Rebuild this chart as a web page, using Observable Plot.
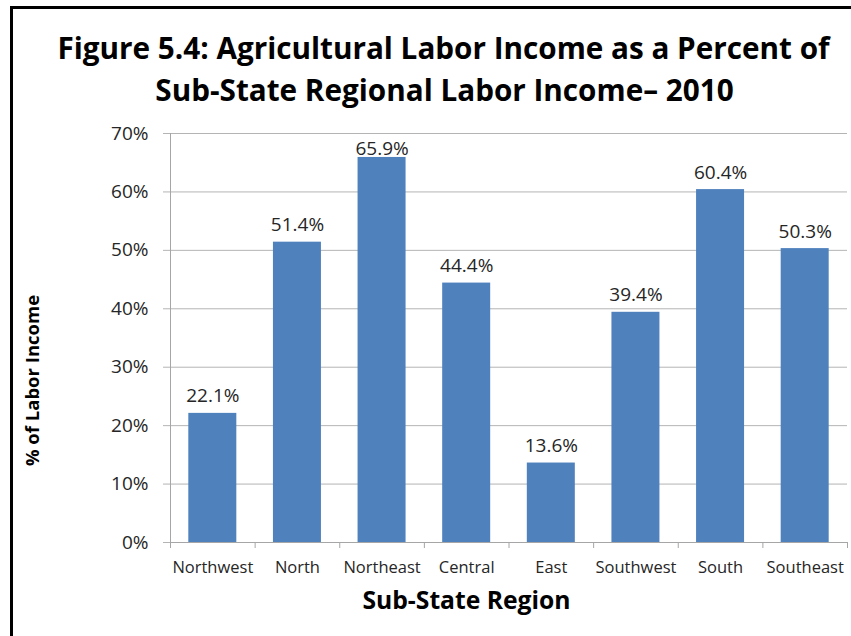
<!DOCTYPE html>
<html><head><meta charset="utf-8">
<script src="https://cdn.jsdelivr.net/npm/d3@7"></script>
<script src="https://cdn.jsdelivr.net/npm/@observablehq/plot@0.6"></script>
<style>
body{margin:0;background:#fff;}
#wrap{position:relative;width:851px;height:636px;overflow:hidden;background:#fff;}
#wrap svg{position:absolute;left:0;top:0;}
#bl{position:absolute;left:10px;top:6px;width:3px;height:630px;background:#000;z-index:2;}
#bt{position:absolute;left:10px;top:6px;width:841px;height:3px;background:#000;z-index:2;}
</style></head><body><div id="wrap"><div id="bl"></div><div id="bt"></div></div>
<script>
const regions = ["Northwest","North","Northeast","Central","East","Southwest","South","Southeast"];
const values = [22.1, 51.4, 65.9, 44.4, 13.6, 39.4, 60.4, 50.3];
const yTicks = [0,10,20,30,40,50,60,70];
const titleLines = ["Figure 5.4: Agricultural Labor Income as a Percent of", "Sub-State Regional Labor Income\u2013 2010"];
const xLabel = "Sub-State Region";
const yLabel = "% of Labor Income";

const data = regions.map((r,i)=>({region:r, value:values[i]}));

const W=851, H=636, mL=170, mR=4, mT=133, mB=94;
const step = (W-mL-mR)/regions.length;
const pxPerUnit = (H-mT-mB)/70;
const gap = 10/pxPerUnit;          // label gap above bar (Excel style)
const maxLabel = 70 - 22/pxPerUnit; // labels kept inside the plot area
const FONT = "'Open Sans', sans-serif";
const grid = "#b4b4b4", axisC = "#a6a6a6", txt = "#262626";

const chart = Plot.plot({
  width: W, height: H,
  marginLeft: mL, marginRight: mR, marginTop: mT, marginBottom: mB,
  style: {fontFamily: FONT, background: "transparent", overflow: "visible"},
  x: {domain: regions, padding: 0, round: false, label: null},
  y: {domain: [0,70], label: null},
  marks: [
    Plot.gridY(yTicks, {stroke: grid, strokeOpacity: 1}),
    Plot.axisY(yTicks, {tickSize: 7, tickPadding: 15, stroke: grid, tickFormat: d => d + "%", fontSize: 19, fill: txt, label: null}),
    Plot.barY(data, {x: "region", y: "value", fill: "#4f81bd", insetLeft: (step-48)/2, insetRight: (step-48)/2}),
    Plot.ruleY([0], {stroke: axisC}),
    Plot.ruleX(regions.slice(0,1), {x: d => d, dx: -step/2, stroke: axisC, insetBottom: -6}),
    Plot.ruleX(regions, {x: d => d, y1: 0, y2: 0, dx: -step/2, stroke: axisC, insetBottom: -6}),
    Plot.ruleX(regions.slice(-1), {x: d => d, y1: 0, y2: 0, dx: step/2, stroke: axisC, insetBottom: -6}),
    Plot.axisX({tickSize: 0, tickPadding: 19, fontSize: 16.5, fill: txt, label: null}),
    Plot.text(data, {x: "region", y: d => Math.min(d.value + gap, maxLabel), text: d => d.value.toFixed(1) + "%", lineAnchor: "bottom", dy: -1, fontSize: 19, fill: txt}),
    Plot.text([titleLines[0]], {frameAnchor: "top", dx: -65.5, dy: -96, fontSize: 29.7, fontWeight: "bold", fill: "#000"}),
    Plot.text([titleLines[1]], {frameAnchor: "top", dx: -64.5, dy: -53.5, fontSize: 29.7, fontWeight: "bold", fill: "#000"}),
    Plot.text([xLabel], {frameAnchor: "bottom", dx: -42.5, dy: 66, fontSize: 24.7, fontWeight: "bold", fill: "#000"}),
    Plot.text([yLabel], {frameAnchor: "left", textAnchor: "middle", dx: -137, dy: 42.5, rotate: -90, fontSize: 18.5, fontWeight: "bold", fill: "#000"})
  ]
});
document.getElementById("wrap").appendChild(chart);
</script></body></html>
